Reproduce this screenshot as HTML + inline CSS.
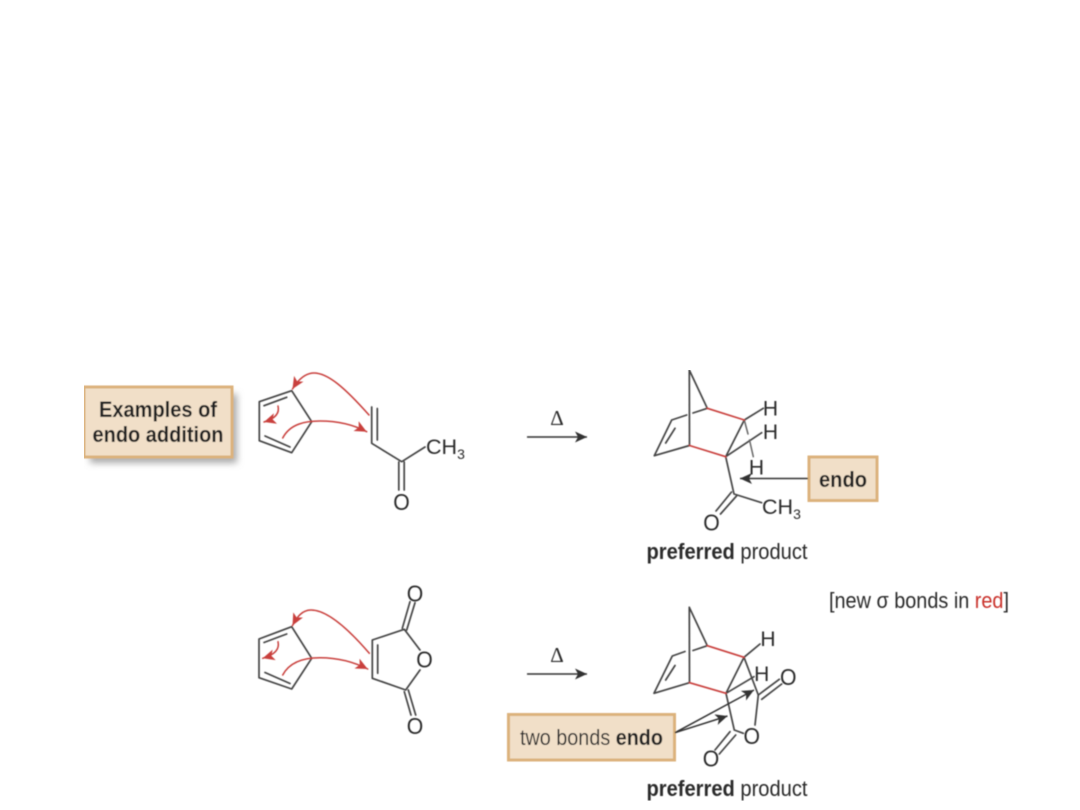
<!DOCTYPE html>
<html><head><meta charset="utf-8"><style>
html,body{margin:0;padding:0;background:#fff;width:1080px;height:810px;overflow:hidden}
svg{display:block}
text{font-family:"Liberation Sans",sans-serif;fill:#2c2c2c}
.l{fill:none;stroke:#444;stroke-width:1.7;stroke-linecap:round;stroke-linejoin:round}
.d{fill:none;stroke:#666;stroke-width:1.5;stroke-linecap:round}
.r{fill:none;stroke:#c9403c;stroke-width:1.7;stroke-linecap:round}
.a{fill:none;stroke:#c9403c;stroke-width:1.5;stroke-linecap:round}
.k{fill:none;stroke:#333;stroke-width:1.5}
.b{fill:#f1dfc8;stroke:#dcb27c;stroke-width:3}
.at{font-size:22px;text-anchor:middle}
.t{font-size:22px}
.dl{font-family:"Liberation Serif",serif;font-size:21px;text-anchor:middle}
</style></head><body>
<svg width="1080" height="810" viewBox="0 0 1080 810" xmlns="http://www.w3.org/2000/svg">
<defs>
<filter id="s" x="-20%" y="-30%" width="140%" height="160%"><feGaussianBlur stdDeviation="3.5"/></filter>
<filter id="soft" x="0" y="0" width="100%" height="100%"><feGaussianBlur stdDeviation="0.45"/></filter>
<marker id="mr" markerUnits="userSpaceOnUse" markerWidth="14" markerHeight="12" refX="12" refY="5.5" orient="auto"><path d="M0 0L12 5.5L0 11L3 5.5Z" fill="#c9403c"/></marker>
<marker id="mk" markerUnits="userSpaceOnUse" markerWidth="14" markerHeight="12" refX="12" refY="5.5" orient="auto"><path d="M0 0L12 5.5L0 11L3 5.5Z" fill="#333"/></marker>
</defs>
<rect width="1080" height="810" fill="#fff"/>
<g filter="url(#soft)">

<!-- Label box 1 -->
<rect x="90" y="394" width="147" height="69" fill="#aaa" filter="url(#s)"/>
<rect class="b" x="84" y="387" width="148" height="70"/>
<text x="158" y="417" font-size="22" font-weight="700" text-anchor="middle" textLength="118" lengthAdjust="spacingAndGlyphs" style="fill:#222">Examples of</text>
<text x="158" y="442" font-size="22" font-weight="700" text-anchor="middle" textLength="131" lengthAdjust="spacingAndGlyphs" style="fill:#222">endo addition</text>

<!-- Top cyclopentadiene -->
<path class="l" d="M291.7 390.7L259.3 401.7V440.7L291.7 452.7L311.7 421.7Z"/>
<path class="l" d="M264 405.7L286.7 397.3M265 436L290 447"/>
<path class="a" marker-end="url(#mr)" d="M369 415C345 388 328 373 314 373C305 373 298 380 292.5 389"/>
<path class="a" marker-end="url(#mr)" d="M282.7 438C290 424 305 421 320 421C338 421 354 425 366.7 431.7"/>
<path class="a" marker-end="url(#mr)" d="M278 406C280 414 274 419 264 422"/>

<!-- Top dienophile -->
<path class="l" d="M371.7 407V443.3L401.7 461.7L425 447M377.3 408.5V440M398.8 462V490M404.2 462V490"/>
<text class="at" x="401.5" y="510" font-size="23" style="font-size:23px" textLength="16.5" lengthAdjust="spacingAndGlyphs">O</text>
<text x="426" y="454" font-size="21.5">CH<tspan font-size="14" dy="5">3</tspan></text>

<!-- Top reaction arrow -->
<text class="dl" x="557" y="425">Δ</text>
<path class="k" marker-end="url(#mk)" d="M527 437H587"/>

<!-- Top product -->
<path class="l" d="M707.3 408.3L689.3 370L689.5 445.5L654.3 455.7L671.7 420L686.7 415M693 413L707.3 408.3M665.7 443L675 428.3"/>
<path class="l" d="M744.3 420L725.7 456.7M744.3 420L763.3 408.3M725.7 456.7L761.7 432.7M725.7 456.7L734 494L761.6 502.7M731.5 492L716 511M736.5 496L720.5 514"/>
<path class="d" d="M744.3 420L748 434M749.5 440L753.3 456.7"/>
<path class="r" d="M707.3 408.3L744.3 420M689.5 445.5L725.7 456.7"/>
<text class="at" x="770.5" y="415.5" style="font-size:21px">H</text>
<text class="at" x="770.5" y="439" style="font-size:21px">H</text>
<text class="at" x="756.5" y="474.5" style="font-size:21px">H</text>
<text class="at" x="711.5" y="530.5" style="font-size:23px" textLength="16.5" lengthAdjust="spacingAndGlyphs">O</text>
<text x="762" y="514" font-size="21.5">CH<tspan font-size="14" dy="5">3</tspan></text>

<!-- endo label -->
<rect class="b" x="809" y="457" width="68" height="43.5"/>
<text x="843" y="487" font-size="22" font-weight="700" text-anchor="middle" textLength="48" lengthAdjust="spacingAndGlyphs" style="fill:#222">endo</text>
<path class="k" marker-end="url(#mk)" d="M808 478.5H740"/>
<text class="t" x="646.5" y="559" textLength="161" lengthAdjust="spacingAndGlyphs"><tspan font-weight="700">preferred</tspan> product</text>

<!-- Note -->
<text class="t" x="829" y="608" textLength="180" lengthAdjust="spacingAndGlyphs">[new σ bonds in <tspan style="fill:#c9302c">red</tspan>]</text>

<!-- Bottom cyclopentadiene -->
<path class="l" d="M291.7 626.7L259 639V677.7L291.7 689L311.7 658.3Z"/>
<path class="l" d="M264 642.5L286.7 634M265 672.5L290 683.5"/>
<path class="a" marker-end="url(#mr)" d="M369.3 653.3C345 625 325 610 311 610C302 610 297 617 292.5 625.5"/>
<path class="a" marker-end="url(#mr)" d="M282.7 675C290 661 305 657.7 320 657.7C338 657.7 354 662 367.7 669"/>
<path class="a" marker-end="url(#mr)" d="M278 641.7C280 650 274 655 262.7 658.3"/>

<!-- Maleic anhydride -->
<path class="l" d="M420 670L405.7 690L372.3 678.3V640L404.3 629.3L420 650M377.7 645V673.3"/>
<path class="l" d="M402.3 628.3L410 601.7M406.7 630L415 602.7M404.3 691.7L411 715M408.3 690L415.7 715"/>
<text class="at" x="424.5" y="667.5" style="font-size:23px" textLength="16.5" lengthAdjust="spacingAndGlyphs">O</text>
<text class="at" x="415" y="601.5" style="font-size:23px" textLength="16.5" lengthAdjust="spacingAndGlyphs">O</text>
<text class="at" x="415" y="734" style="font-size:23px" textLength="16.5" lengthAdjust="spacingAndGlyphs">O</text>

<!-- Bottom reaction arrow -->
<text class="dl" x="557" y="662">Δ</text>
<path class="k" marker-end="url(#mk)" d="M527 674H587"/>

<!-- Bottom product -->
<path class="l" d="M707.3 645.7L689.3 607.3L689.5 682.7L654 693.3L672.3 656L685 651.5M693 650.5L707.3 645.7M665.7 680L675 665.5"/>
<path class="l" d="M744 657.3L726 693.3M744 657.3L760 644M726 693.3L754 676.7M744 657.3L758.3 695L755 725M726 693.3L734.3 730L743.3 733.3"/>
<path class="l" d="M730 731.7L715 750M735.7 735L719.3 754M758.3 695L779.3 679.3M761.7 699.3L781.7 684"/>
<path class="r" d="M707.3 645.7L744 657.3M689.5 682.7L726 693.3"/>
<text class="at" x="768" y="646" style="font-size:21px">H</text>
<text class="at" x="761.7" y="681" style="font-size:21px">H</text>
<text class="at" x="788.3" y="685" style="font-size:23px" textLength="16.5" lengthAdjust="spacingAndGlyphs">O</text>
<text class="at" x="751.7" y="744" style="font-size:23px" textLength="16.5" lengthAdjust="spacingAndGlyphs">O</text>
<text class="at" x="711" y="766.5" style="font-size:23px" textLength="16.5" lengthAdjust="spacingAndGlyphs">O</text>

<!-- two bonds endo label -->
<rect class="b" x="508.5" y="714.5" width="166" height="45.5"/>
<text class="t" x="520" y="745" textLength="143" lengthAdjust="spacingAndGlyphs">two bonds <tspan font-weight="700" style="fill:#222">endo</tspan></text>
<path class="k" marker-end="url(#mk)" d="M675 732.7L754 690"/>
<path class="k" marker-end="url(#mk)" d="M675 732.7L727.5 716"/>
<text class="t" x="646.5" y="796" textLength="161" lengthAdjust="spacingAndGlyphs"><tspan font-weight="700">preferred</tspan> product</text>
</g>
</svg>
</body></html>
